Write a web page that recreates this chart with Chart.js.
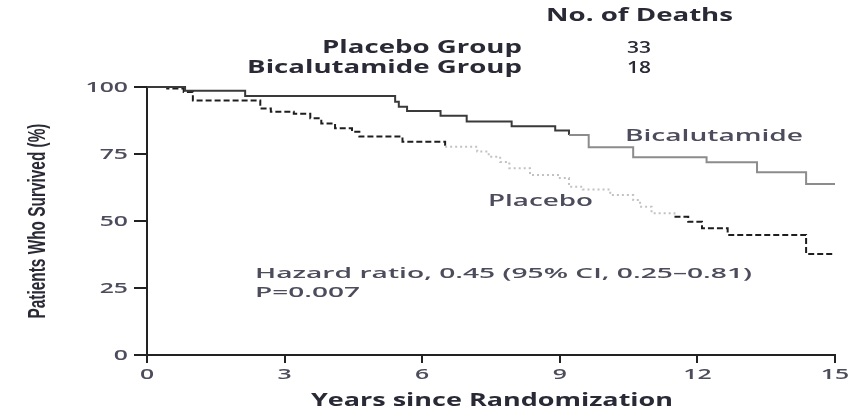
<!DOCTYPE html>
<html>
<head>
<meta charset="utf-8">
<script src="https://cdn.jsdelivr.net/npm/chart.js@4"></script>
<style>
html,body{margin:0;padding:0;background:#fff;overflow:hidden;}
canvas{display:block;}
</style>
</head>
<body>
<canvas id="c" width="859" height="415"></canvas>
<script>
// ---- data ----
const xTickValues = [0, 3, 6, 9, 12, 15];
const xTickLabels = ['0', '3', '6', '9', '12', '15'];
const yTickValues = [0, 25, 50, 75, 100];
const yTickLabels = ['0', '25', '50', '75', '100'];

const bicaYears    = [0, 0.83, 2.14, 5.41, 5.49, 5.67, 6.4, 6.97, 7.95, 8.9, 9.2, 9.63, 10.6, 12.2, 13.3, 14.37, 15];
const bicaSurvival = [100, 98.6, 96.6, 94.5, 92.6, 91.0, 89.3, 87.1, 85.4, 83.8, 82.1, 77.5, 73.8, 71.9, 68.2, 63.8, 63.8];

const placeboYears    = [0, 0.44, 0.8, 1.0, 2.47, 2.7, 3.2, 3.56, 3.8, 4.1, 4.47, 4.63, 5.57, 6.5, 7.2, 7.45, 7.7, 7.9, 8.35, 9.0, 9.2, 9.5, 10.1, 10.6, 10.75, 11.0, 11.5, 11.8, 12.1, 12.66, 14.37, 15];
const placeboSurvival = [100, 99.4, 98.1, 95.0, 92.0, 90.8, 90.0, 88.3, 86.4, 84.6, 83.3, 81.5, 79.6, 77.7, 75.9, 74.0, 72.0, 69.7, 67.2, 66.0, 62.8, 61.8, 59.7, 57.8, 55.3, 52.9, 51.6, 49.7, 47.3, 44.8, 37.7, 37.7];

const groupNames  = ['Placebo Group', 'Bicalutamide Group'];
const deathCounts = ['33', '18'];

// ---- helpers ----
function drawStretched(ctx, text, x, cy, o) {
  ctx.save();
  ctx.font = o.font;
  ctx.fillStyle = o.color;
  ctx.textBaseline = 'alphabetic';
  ctx.textAlign = 'left';
  const w = ctx.measureText(text).width;
  const sx = o.width ? o.width / w : (o.sx || 1);
  const dw = w * sx;
  let left = x;
  if (o.align === 'right') left = x - dw;
  else if (o.align === 'center') left = x - dw / 2;
  ctx.translate(left, cy + o.size * 0.36);
  ctx.scale(sx, 1);
  ctx.fillText(text, 0, 0);
  ctx.restore();
}

const BOLD = (s) => `700 ${s}px "Open Sans", "DejaVu Sans", sans-serif`;
const SEMI = (s) => `600 ${s}px "Open Sans", "DejaVu Sans", sans-serif`;

const textPlugin = {
  id: 'texts',
  afterDraw(chart) {
    const ctx = chart.ctx;
    const xs = chart.scales.x, ys = chart.scales.y;
    const dark = '#2a2a36', mid = '#4c4c5c';

    // header block: one common stretch, taken from "Placebo Group"
    ctx.save();
    ctx.font = BOLD(17);
    const hsx = 200 / ctx.measureText(groupNames[0]).width;
    ctx.restore();
    drawStretched(ctx, 'No. of Deaths', 733, 15, {font: BOLD(17), size: 17, color: dark, sx: hsx, align: 'right'});
    drawStretched(ctx, groupNames[0], 522, 46.5, {font: BOLD(17), size: 17, color: dark, sx: hsx, align: 'right'});
    drawStretched(ctx, deathCounts[0], 627, 46.5, {font: SEMI(17), size: 17, color: dark, width: 24});
    drawStretched(ctx, groupNames[1], 522, 66.7, {font: BOLD(17), size: 17, color: dark, sx: hsx, align: 'right'});
    drawStretched(ctx, deathCounts[1], 627, 66.7, {font: SEMI(17), size: 17, color: dark, width: 24});

    // curve labels and statistics
    drawStretched(ctx, 'Bicalutamide', 625, 135, {font: SEMI(16), size: 16, color: mid, width: 178});
    drawStretched(ctx, 'Placebo', 488, 200, {font: SEMI(16), size: 16, color: mid, width: 105});
    drawStretched(ctx, 'Hazard ratio, 0.45 (95% CI, 0.25\u20130.81)', 255, 273, {font: SEMI(15), size: 15, color: mid, width: 497});
    drawStretched(ctx, 'P=0.007', 255, 291.5, {font: SEMI(15), size: 15, color: mid, width: 105});

    // tick labels
    yTickValues.forEach((v, i) => {
      drawStretched(ctx, yTickLabels[i], 128, ys.getPixelForValue(v), {font: SEMI(15), size: 15, color: mid, sx: 1.65, align: 'right'});
    });
    xTickValues.forEach((v, i) => {
      drawStretched(ctx, xTickLabels[i], xs.getPixelForValue(v), 374, {font: SEMI(15), size: 15, color: mid, sx: 1.65, align: 'center'});
    });

    // axis titles
    drawStretched(ctx, 'Years since Randomization', 492, 400, {font: BOLD(17), size: 17, color: dark, width: 362, align: 'center'});

    ctx.save();
    ctx.font = '700 15px "Liberation Sans Narrow", "Liberation Sans", sans-serif';
    ctx.fillStyle = dark;
    ctx.textAlign = 'center';
    ctx.textBaseline = 'alphabetic';
    const t = 'Patients Who Survived (%)';
    const w = ctx.measureText(t).width;
    ctx.translate(37, (ys.top + ys.bottom) / 2);
    ctx.rotate(-Math.PI / 2);
    ctx.scale(195 / w, 1.55);
    ctx.fillText(t, 0, 15 * 0.36);
    ctx.restore();
  }
};

const darkDash = '#1e1e1e';
const lightDash = '#c2c2c2';
const inLight = (c) => c.p0.parsed.x >= 6.5 && c.p0.parsed.x < 11.5;

new Chart(document.getElementById('c'), {
  type: 'line',
  data: {
    datasets: [
      {
        label: 'Bicalutamide',
        data: bicaYears.map((x, i) => ({x, y: bicaSurvival[i]})),
        stepped: 'before',
        borderColor: '#3a3a3a',
        borderWidth: 2,
        pointRadius: 0,
        fill: false,
        clip: 4,
        segment: {
          borderColor: (c) => c.p0.parsed.x >= 9.2 ? '#8c8c8c' : '#3a3a3a'
        }
      },
      {
        label: 'Placebo',
        data: placeboYears.map((x, i) => ({x, y: placeboSurvival[i]})),
        stepped: 'before',
        borderColor: darkDash,
        borderWidth: 2,
        borderDash: [6, 3],
        pointRadius: 0,
        fill: false,
        clip: 4,
        segment: {
          borderColor: (c) => inLight(c) ? lightDash : darkDash,
          borderDash: (c) => inLight(c) ? [2, 3] : [6, 3]
        }
      }
    ]
  },
  options: {
    responsive: false,
    animation: false,
    events: [],
    layout: {padding: {top: 87, right: 24, left: 0, bottom: 0}},
    plugins: {legend: {display: false}, tooltip: {enabled: false}},
    scales: {
      x: {
        type: 'linear', min: 0, max: 15,
        ticks: {stepSize: 3, display: false},
        grid: {display: true, drawOnChartArea: false, drawTicks: true, tickLength: 8, color: '#222', lineWidth: 2},
        border: {display: true, color: '#222', width: 2},
        afterFit: (s) => { s.height = 60; }
      },
      y: {
        type: 'linear', min: 0, max: 100,
        ticks: {stepSize: 25, display: false},
        grid: {display: true, drawOnChartArea: false, drawTicks: true, tickLength: 13, color: '#222', lineWidth: 2},
        border: {display: true, color: '#222', width: 2},
        afterFit: (s) => { s.width = 147; }
      }
    }
  },
  plugins: [textPlugin]
});
</script>
</body>
</html>
